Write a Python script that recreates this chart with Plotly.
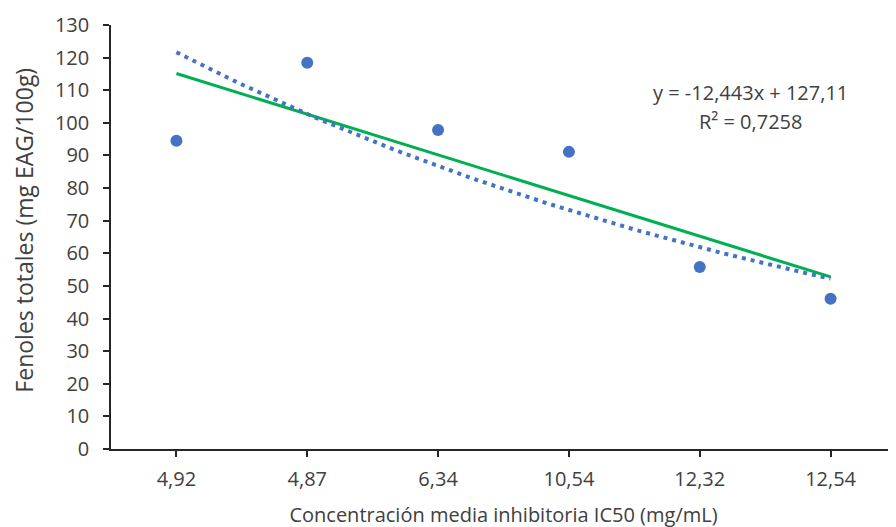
import numpy as np
import plotly.graph_objects as go

# IC50 categories (plotted at positions 1..6, like an Excel line/scatter category axis)
ic50_labels = ['4,92', '4,87', '6,34', '10,54', '12,32', '12,54']
positions = [1, 2, 3, 4, 5, 6]
fenoles = [94.5, 118.4, 97.8, 91.1, 55.8, 46.1]

x = np.array(positions, dtype=float)
y = np.array(fenoles, dtype=float)

# linear trend (green) and exponential trend (dotted blue)
slope, intercept = np.polyfit(x, y, 1)
b_exp, ln_a = np.polyfit(x, np.log(y), 1)
xs = np.linspace(x.min(), x.max(), 60)

text_color = '#404040'
blue = '#4472C4'
green = '#00B050'
font_family = 'Open Sans'

fig = go.Figure()

fig.add_trace(go.Scatter(
    x=xs, y=slope * xs + intercept,
    mode='lines', line=dict(color=green, width=3),
    showlegend=False, hoverinfo='skip'
))

fig.add_trace(go.Scatter(
    x=xs, y=np.exp(ln_a + b_exp * xs),
    mode='lines', line=dict(color=blue, width=4, dash='4px,5px'),
    showlegend=False, hoverinfo='skip'
))

fig.add_trace(go.Scatter(
    x=positions, y=fenoles,
    mode='markers', marker=dict(color=blue, size=12),
    showlegend=False
))

# trendline equation, two lines placed separately for the wider Excel line spacing
fig.add_annotation(
    x=5.39, y=109.2, xref='x', yref='y',
    text='y = -12,443x + 127,11',
    showarrow=False, font=dict(family=font_family, size=20, color=text_color)
)
fig.add_annotation(
    x=5.39, y=100.4, xref='x', yref='y',
    text='R² = 0,7258',
    showarrow=False, font=dict(family=font_family, size=20, color=text_color)
)

# y axis title as an annotation so it can sit a bit above the plot centre, like Excel
fig.add_annotation(
    xref='paper', yref='paper', x=0, y=0.515, xshift=-87,
    xanchor='center', yanchor='middle',
    text='Fenoles totales (mg EAG/100g)', textangle=-90,
    showarrow=False, font=dict(family=font_family, size=23, color=text_color)
)

# the page body has an 8px margin, so margins are shifted to land on the reference layout
fig.update_layout(
    width=896, height=527,
    margin=dict(l=103, r=8, t=17, b=86),
    plot_bgcolor='white', paper_bgcolor='white',
    font=dict(family=font_family, size=20, color=text_color),
    xaxis=dict(
        range=[0.5, 6.5], automargin=False,
        tickmode='array', tickvals=positions, ticktext=ic50_labels,
        showgrid=False, zeroline=False,
        showline=True, linecolor='#262626', linewidth=1.5,
        ticks='outside', ticklen=6, tickcolor='#262626', tickwidth=1.5,
        ticklabelstandoff=5,
        title=dict(text='Concentración media inhibitoria IC50 (mg/mL)',
                   font=dict(size=20), standoff=17)
    ),
    yaxis=dict(
        range=[0, 130], dtick=10, automargin=False,
        showgrid=False, zeroline=False,
        showline=True, linecolor='#262626', linewidth=1.5,
        ticks='outside', ticklen=6, tickcolor='#262626', tickwidth=1.5,
        ticklabelstandoff=10
    )
)

fig.write_html('out.html')
